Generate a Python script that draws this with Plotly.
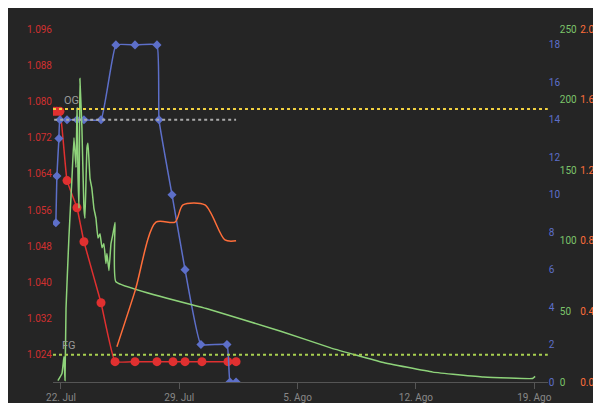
import pandas as pd
import plotly.graph_objects as go

base = pd.Timestamp("2024-07-22")

# day offsets from 22 Jul
sg_days = [-0.41, -0.25, -0.06, 0.36, 0.95, 1.36, 2.37, 3.2, 4.38, 5.68, 6.63, 7.34, 8.34, 9.88, 10.36]
sg_vals = [1.0778, 1.0778, 1.0778, 1.0625, 1.0565, 1.049, 1.0355, 1.0225, 1.0225, 1.0225,
           1.0225, 1.0225, 1.0225, 1.0225, 1.0225]

temp_days = [-0.3, -0.24, -0.12, -0.06, 0.36, 0.95, 1.36, 2.37, 3.25, 4.38, 5.68, 5.8,
             6.57, 7.34, 8.28, 9.82, 10.0, 10.36]
temp_vals = [8.5, 11, 13, 14, 14, 14, 14, 14, 18, 18, 18, 14, 10, 6, 2, 2, 0, 0]

or_days = [3.31, 4.38, 5.62, 6.75, 7.22, 8.52, 9.7, 10.36]
or_vals = [0.2, 0.515, 0.906, 0.906, 1.003, 1.003, 0.805, 0.8]

gr_days = [-0.18, 0.06, 0.18, 0.24, 0.30, 0.47, 0.65, 0.77, 0.89, 0.95, 1.01, 1.07, 1.12,
           1.24, 1.36, 1.42, 1.54, 1.60, 1.72, 1.83, 1.95, 2.07, 2.19, 2.31, 2.43, 2.54,
           2.66, 2.72, 2.84, 2.96, 3.08, 3.2, 3.25, 8.6, 13.0, 16.0, 19.0, 22.0, 25.0, 27.9, 28.05]
gr_vals = [1, 6, 18, 1, 52, 102, 144, 173, 152, 194, 145, 123, 215, 180, 123, 116, 166, 169,
           144, 137, 123, 116, 102, 105, 95, 98, 84, 91, 79, 98, 105, 113, 71, 52, 36, 24, 14,
           7, 3.5, 2.5, 4]

og_val = 1.0783
fg_val = 1.024
temp_target = 14

tick_days = [0, 7, 14, 21, 28]
tick_text = ["22. Jul", "29. Jul", "5. Ago", "12. Ago", "19. Ago"]

def dates(d):
    return [base + pd.Timedelta(days=x) for x in d]

RED, BLUE, GREEN, ORANGE = "#e03030", "#5d6fc9", "#8ed37a", "#ff6e3a"
END = 0.898

fig = go.Figure()
fig.add_trace(go.Scatter(x=dates(gr_days), y=gr_vals, yaxis="y3", mode="lines",
                         line=dict(color=GREEN, width=1.5, shape="spline", smoothing=0.3)))
fig.add_trace(go.Scatter(x=dates(or_days), y=or_vals, yaxis="y4", mode="lines",
                         line=dict(color=ORANGE, width=1.5, shape="spline", smoothing=0.8)))
fig.add_trace(go.Scatter(x=dates(temp_days), y=temp_vals, yaxis="y2", mode="lines+markers",
                         line=dict(color=BLUE, width=1.5, shape="spline", smoothing=0.3),
                         marker=dict(symbol="diamond", size=7, color=BLUE)))
fig.add_trace(go.Scatter(x=dates(sg_days), y=sg_vals, mode="lines+markers",
                         line=dict(color=RED, width=1.5, shape="spline", smoothing=0.3),
                         marker=dict(size=9, color=RED)))

fig.add_shape(type="line", xref="paper", yref="y", x0=0, x1=END, y0=og_val, y1=og_val,
              line=dict(color="#f0d040", width=2, dash="dot"))
fig.add_shape(type="line", xref="paper", yref="y", x0=0, x1=END, y0=fg_val, y1=fg_val,
              line=dict(color="#a8d050", width=2, dash="dot"))
fig.add_shape(type="line", xref="x", yref="y2", x0=dates([-0.4])[0], x1=dates([10.36])[0],
              y0=temp_target, y1=temp_target, line=dict(color="#aaaaaa", width=2, dash="dot"))
fig.add_annotation(x=dates([0.6])[0], y=og_val, text="OG", showarrow=False, yshift=9,
                   font=dict(color="#999999", size=11))
fig.add_annotation(x=dates([0.5])[0], y=fg_val, text="FG", showarrow=False, yshift=9,
                   font=dict(color="#999999", size=11))

font = dict(family="Roboto", size=10)
fig.update_layout(
    width=601, height=403, showlegend=False,
    paper_bgcolor="#252525", plot_bgcolor="#252525",
    margin=dict(l=45, r=5, t=21, b=29), font=font,
    xaxis=dict(domain=[0, END], type="date", automargin=False,
               range=[dates([-0.47])[0], dates([28.8])[0]],
               tickvals=dates(tick_days), ticktext=tick_text, showgrid=False,
               showline=True, linecolor="#555555", ticks="outside", tickcolor="#555555",
               ticklen=6, tickfont=dict(color="#888888"), zeroline=False),
    yaxis=dict(range=[1.018, 1.096], tickvals=[1.024 + 0.008 * i for i in range(10)],
               tickformat=".3f", showgrid=False, zeroline=False, automargin=False,
               tickfont=dict(color="#d03030")),
    yaxis2=dict(range=[0, 18.85], overlaying="y", side="right", anchor="x", automargin=False,
                dtick=2, showgrid=False, zeroline=False, tickfont=dict(color=BLUE)),
    yaxis3=dict(range=[0, 250], overlaying="y", side="right", anchor="free", position=0.918,
                automargin=False,
                dtick=50, showgrid=False, zeroline=False, tickfont=dict(color="#7cc46a")),
    yaxis4=dict(range=[0, 2.0], overlaying="y", side="right", anchor="free", position=0.955,
                automargin=False, tickvals=[0, 0.4, 0.8, 1.2, 1.6, 2.0], tickformat=".1f",
                showgrid=False, zeroline=False, tickfont=dict(color=ORANGE)),
)
fig.write_html("out.html")
